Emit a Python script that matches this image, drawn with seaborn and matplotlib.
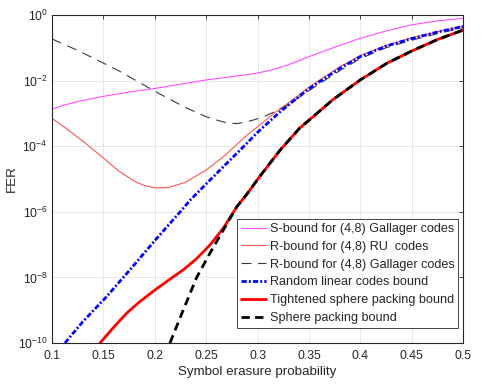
import numpy as np
import pandas as pd
import seaborn as sns
import matplotlib
matplotlib.use("Agg")
import matplotlib.pyplot as plt
from matplotlib.ticker import NullLocator

# values (x = erasure prob, y = log10(FER))
s_bound_x = [0.1, 0.11, 0.125, 0.15, 0.175, 0.2, 0.225, 0.25, 0.275, 0.2875, 0.3,
             0.3125, 0.325, 0.3375, 0.35, 0.377, 0.4, 0.426, 0.45, 0.475, 0.5]
s_bound_log = [-2.87, -2.76, -2.64, -2.48, -2.35, -2.24, -2.11, -1.98, -1.88, -1.83,
               -1.77, -1.685, -1.57, -1.43, -1.27, -0.96, -0.71, -0.48, -0.30, -0.18,
               -0.10]

ru_x = [0.1, 0.108, 0.116, 0.1325, 0.15, 0.165, 0.181, 0.19, 0.2, 0.2136, 0.2298,
        0.25, 0.2687, 0.288, 0.3044, 0.318, 0.33, 0.341, 0.35, 0.362, 0.38, 0.4,
        0.425, 0.45, 0.475, 0.5]
ru_log = [-3.15, -3.33, -3.51, -3.91, -4.36, -4.76, -5.08, -5.2, -5.27, -5.26, -5.10,
          -4.73, -4.27, -3.71, -3.30, -2.95, -2.68, -2.42, -2.2, -1.95, -1.58, -1.24,
          -0.93, -0.7, -0.51, -0.34]

gal_x = [0.1, 0.125, 0.147, 0.165, 0.179, 0.2, 0.2045, 0.2298, 0.25, 0.262, 0.272,
         0.28, 0.288, 0.2963, 0.3044, 0.319, 0.33, 0.338, 0.35, 0.362, 0.38, 0.4,
         0.425, 0.45, 0.475, 0.5]
gal_log = [-0.73, -1.08, -1.42, -1.7, -1.95, -2.32, -2.40, -2.82, -3.1, -3.22, -3.3,
           -3.31, -3.27, -3.2, -3.12, -2.92, -2.74, -2.56, -2.31, -2.06, -1.7, -1.33,
           -1.0, -0.77, -0.57, -0.39]

rand_x = [0.1126, 0.13, 0.153, 0.175, 0.2, 0.225, 0.2346, 0.244, 0.265, 0.283, 0.3,
          0.3044, 0.322, 0.341, 0.35, 0.362, 0.38, 0.4, 0.425, 0.45, 0.475, 0.5]
rand_log = [-10, -9.35, -8.59, -7.8, -6.88, -5.99, -5.64, -5.34, -4.68, -4.12, -3.58,
            -3.45, -2.95, -2.47, -2.25, -2.0, -1.63, -1.27, -0.95, -0.72, -0.52, -0.35]

tsp_x = [0.1467, 0.16, 0.1727, 0.185, 0.2003, 0.215, 0.2277, 0.24, 0.2538, 0.2667,
         0.28, 0.29, 0.302, 0.322, 0.341, 0.356, 0.373, 0.4, 0.426, 0.45, 0.475, 0.5]
tsp_log = [-10, -9.52, -9.09, -8.75, -8.38, -8.05, -7.77, -7.45, -7.01, -6.5, -5.84,
           -5.45, -4.93, -4.12, -3.45, -3.05, -2.59, -1.98, -1.47, -1.1, -0.75, -0.46]

sp_x = [0.2148, 0.227, 0.2408, 0.253, 0.265, 0.277, 0.28, 0.29, 0.302, 0.322, 0.341,
        0.356, 0.373, 0.4, 0.426, 0.45, 0.475, 0.5]
sp_log = [-10, -9.05, -8.0, -7.3, -6.65, -6.0, -5.84, -5.45, -4.93, -4.12, -3.45,
          -3.05, -2.59, -1.98, -1.47, -1.1, -0.75, -0.46]

labels = ["S-bound for (4,8) Gallager codes",
          "R-bound for (4,8) RU  codes",
          "R-bound for (4,8) Gallager codes",
          "Random linear codes bound",
          "Tightened sphere packing bound",
          "Sphere packing bound"]

x_ticks = [0.1, 0.15, 0.2, 0.25, 0.3, 0.35, 0.4, 0.45, 0.5]
x_tick_labels = ["0.1", "0.15", "0.2", "0.25", "0.3", "0.35", "0.4", "0.45", "0.5"]
y_ticks = [1e-10, 1e-8, 1e-6, 1e-4, 1e-2, 1e0]
y_tick_labels = [r"$10^{-10}$", r"$10^{-8}$", r"$10^{-6}$", r"$10^{-4}$",
                 r"$10^{-2}$", r"$10^{0}$"]

sns.set_style("whitegrid", {"axes.edgecolor": "#262626", "grid.color": "#e3e3e3",
                            "xtick.direction": "in", "ytick.direction": "in"})
plt.rcParams["font.family"] = ["Liberation Sans", "DejaVu Sans"]
plt.rcParams["mathtext.fontset"] = "custom"
plt.rcParams["mathtext.rm"] = "Liberation Sans"
plt.rcParams["mathtext.it"] = "Liberation Sans"

fig = plt.figure(figsize=(4.9, 3.86), dpi=100)
ax = fig.add_axes([52 / 490, 1 - 343 / 386, 411 / 490, 328 / 386])

series = [
    (s_bound_x, s_bound_log, dict(color="#ff4cff", linewidth=0.8, linestyle="-")),
    (ru_x, ru_log, dict(color="#ff5555", linewidth=0.8, linestyle="-")),
    (gal_x, gal_log, dict(color="#3a3a3a", linewidth=0.8, linestyle=(0, (9, 6)))),
    (rand_x, rand_log, dict(color="#0000ff", linewidth=2.0,
                            linestyle=(0, (1.9, 0.75, 0.7, 0.75)))),
    (tsp_x, tsp_log, dict(color="#ff0000", linewidth=2.0, linestyle="-")),
    (sp_x, sp_log, dict(color="#000000", linewidth=2.0, linestyle=(0, (3.0, 1.9)))),
]
for (xs, ys, kw), lab in zip(series, labels):
    df = pd.DataFrame({"p": xs, "fer": np.power(10.0, ys)})
    sns.lineplot(data=df, x="p", y="fer", ax=ax, label=lab, estimator=None,
                 sort=True, **kw)

ax.set_yscale("log")
ax.set_xlim(0.1, 0.5)
ax.set_ylim(1e-10, 1)
ax.set_xticks(x_ticks)
ax.set_xticklabels(x_tick_labels)
ax.set_yticks(y_ticks)
ax.set_yticklabels(y_tick_labels)
ax.yaxis.set_minor_locator(NullLocator())
ax.tick_params(axis="both", which="major", labelsize=8.8, length=3, width=0.6,
               top=True, right=True, color="#262626")
ax.tick_params(axis="x", pad=5)
ax.tick_params(axis="y", pad=3)
ax.grid(True, linewidth=0.6)
for sp in ax.spines.values():
    sp.set_linewidth(0.8)

ax.set_xlabel("Symbol erasure probability", fontsize=9.6, labelpad=3)
ax.set_ylabel("FER", fontsize=9.6, labelpad=0)

leg = ax.legend(loc="lower right", bbox_to_anchor=(0.988, 0.046), borderaxespad=0,
                fontsize=9.1, frameon=True, fancybox=False, framealpha=1,
                edgecolor="#262626", handlelength=2.0, handletextpad=0.25,
                labelspacing=0.46, borderpad=0.3)
leg.get_frame().set_linewidth(0.6)

fig.savefig("out.png", dpi=100)
